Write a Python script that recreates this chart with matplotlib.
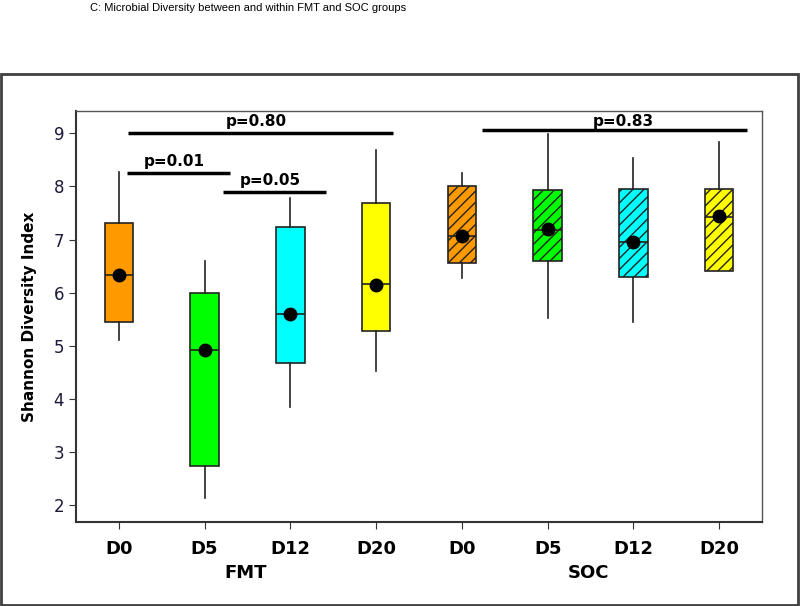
import numpy as np
import matplotlib.pyplot as plt
from matplotlib.patches import Rectangle

# Box statistics (Shannon diversity index)
days = ['D0', 'D5', 'D12', 'D20', 'D0', 'D5', 'D12', 'D20']
groups = ['FMT', 'SOC']
whis_lo = [5.11, 2.13, 3.85, 4.53, 6.28, 5.52, 5.45, 6.41]
q1 = [5.45, 2.73, 4.67, 5.28, 6.56, 6.60, 6.30, 6.41]
median = [6.33, 4.92, 5.60, 6.16, 7.07, 7.18, 6.96, 7.43]
q3 = [7.32, 6.00, 7.24, 7.68, 8.00, 7.93, 7.95, 7.95]
whis_hi = [8.28, 6.60, 7.79, 8.69, 8.25, 8.98, 8.53, 8.84]
mean = [6.33, 4.92, 5.60, 6.15, 7.07, 7.20, 6.96, 7.44]
colors = ['#FF9900', '#00FF00', '#00FFFF', '#FFFF00'] * 2

# significance brackets: (x start, x end, y, label)
brackets = [
    (1.10, 2.30, 8.25, 'p=0.01'),
    (2.22, 3.42, 7.89, 'p=0.05'),
    (1.11, 4.20, 9.01, 'p=0.80'),
    (5.23, 8.33, 9.07, 'p=0.83'),
]

plt.rcParams['hatch.linewidth'] = 1.0

fig = plt.figure(figsize=(8, 6.06), dpi=100)
ax = fig.add_axes([0.095, 0.1386, 0.8575, 0.6782])

positions = np.arange(1, len(days) + 1)
stats = []
for i in range(len(days)):
    stats.append({'whislo': whis_lo[i], 'q1': q1[i], 'med': median[i],
                  'q3': q3[i], 'whishi': whis_hi[i], 'mean': mean[i]})

bp = ax.bxp(stats, positions=positions, widths=0.33, patch_artist=True,
            showcaps=False, showfliers=False, showmeans=True,
            boxprops=dict(edgecolor='#222222', linewidth=1.2),
            whiskerprops=dict(color='#222222', linewidth=1.2),
            medianprops=dict(color='#222222', linewidth=1.2),
            meanprops=dict(marker='o', markerfacecolor='black',
                           markeredgecolor='black', markersize=9))

for i, box in enumerate(bp['boxes']):
    box.set_facecolor(colors[i])
    if i >= 4:
        box.set_hatch('///')

for x0, x1, y, label in brackets:
    ax.plot([x0, x1], [y, y], color='black', linewidth=2.5,
            solid_capstyle='butt')
    dx = 0.1 if label == 'p=0.83' else -0.05
    dy = 0.02 if label == 'p=0.83' else 0.08
    ax.text((x0 + x1) / 2 + dx, y + dy, label, ha='center', va='bottom',
            fontsize=11, fontweight='bold')

ax.set_xlim(0.5, 8.5)
ax.set_ylim(1.68, 9.42)
ax.set_yticks(range(2, 10))
ax.set_xticks(positions)
ax.set_xticklabels(days, fontsize=13, fontweight='bold')
ax.tick_params(axis='y', labelsize=12, labelcolor='#1a1a3a', length=5,
               color='#333333')
ax.tick_params(axis='x', length=5, color='#333333', pad=8)

for side in ['top', 'right']:
    ax.spines[side].set_color('#555555')
    ax.spines[side].set_linewidth(1.0)
for side in ['left', 'bottom']:
    ax.spines[side].set_color('#333333')
    ax.spines[side].set_linewidth(1.5)

ax.set_ylabel('Shannon Diversity Index', fontsize=11, fontweight='bold',
              labelpad=12)

for k, g in enumerate(groups):
    ax.text(2.5 + 4 * k - 0.02, -0.125, g, transform=ax.get_xaxis_transform(),
            ha='center', va='center', fontsize=13, fontweight='bold')

fig.text(0.31, 0.986, 'C: Microbial Diversity between and within FMT and SOC groups',
         ha='center', va='center', fontsize=8, family='Liberation Sans')

# outer frame
fig.patches.append(Rectangle((0.001, 0.002), 0.997, 0.876,
                             transform=fig.transFigure, fill=False,
                             edgecolor='#404040', linewidth=2))

plt.savefig('out.png', dpi=100, facecolor='white')
plt.close()
